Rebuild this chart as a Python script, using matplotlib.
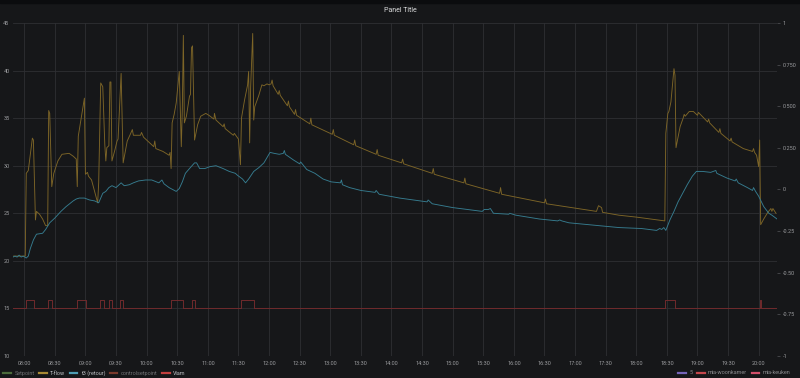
import numpy as np
import pandas as pd
import matplotlib
matplotlib.use("Agg")
import matplotlib.pyplot as plt
import matplotlib.dates as mdates
from matplotlib.lines import Line2D
from matplotlib.patches import Rectangle

plt.rcParams['font.family'] = ['Roboto', 'DejaVu Sans']

DAY = "2019-01-01 "

# T-flow (aanvoer)
tflow_time = [
    "07:49", "08:01", "08:02", "08:04", "08:08", "08:09", "08:11", "08:12", "08:15", "08:18",
    "08:21", "08:23", "08:24", "08:25", "08:27", "08:29", "08:33", "08:37", "08:44", "08:48",
    "08:51", "08:52", "08:53", "08:59", "09:00", "09:02", "09:03", "09:06", "09:12", "09:13",
    "09:15", "09:17", "09:19", "09:20", "09:21", "09:23", "09:24", "09:25", "09:26", "09:29",
    "09:31", "09:32", "09:35", "09:37", "09:41", "09:44", "09:46", "09:47", "09:54", "09:55",
    "09:57", "10:03", "10:07", "10:08", "10:09", "10:16", "10:22", "10:23", "10:24", "10:25",
    "10:27", "10:29", "10:32", "10:34", "10:35", "10:36", "10:37", "10:39", "10:42", "10:43",
    "10:44", "10:45", "10:47", "10:50", "10:53", "10:58", "11:01", "11:06", "11:06:30", "11:08",
    "11:15", "11:16", "11:17", "11:25", "11:26", "11:30", "11:32", "11:33", "11:36", "11:39",
    "11:40", "11:41", "11:42", "11:44", "11:45", "11:46", "11:50", "11:53", "11:55", "11:58",
    "12:00", "12:02", "12:03", "12:04", "12:09", "12:10", "12:11", "12:18", "12:19", "12:20",
    "12:25", "12:26", "12:27", "12:40", "12:41", "12:42", "13:02", "13:03", "13:04", "13:23",
    "13:24", "13:25", "13:45", "13:46", "13:47", "14:10", "14:11", "14:12", "14:40", "14:41",
    "14:42", "15:11", "15:12", "15:13", "15:46", "15:47", "15:48", "16:30", "16:31", "16:32",
    "17:21", "17:23", "17:26", "17:27", "17:43", "18:00", "18:28", "18:29", "18:31", "18:32",
    "18:34", "18:37", "18:38", "18:39", "18:43", "18:46", "18:47", "18:48", "18:52", "18:56",
    "18:59", "19:00", "19:01", "19:10", "19:11", "19:12", "19:21", "19:22", "19:23", "19:32",
    "19:33", "19:34", "19:45", "19:54", "19:55", "19:56", "19:58", "20:00", "20:01", "20:02",
    "20:05", "20:09", "20:12", "20:13", "20:14", "20:17",
]
tflow_val = [
    20.5, 20.5, 29.2, 29.5, 32.9, 32.7, 24.3, 25.2, 24.9, 24.4,
    23.7, 23.7, 35.8, 35.5, 27.8, 29.2, 30.5, 31.2, 31.3, 31.0,
    30.7, 27.8, 33.1, 37.1, 29.1, 29.3, 28.9, 28.5, 26.1, 28.2,
    38.7, 38.3, 32.2, 30.5, 31.9, 32.1, 38.8, 38.8, 30.5, 31.7,
    32.6, 32.8, 39.7, 30.3, 32.6, 33.3, 33.8, 33.2, 33.2, 33.5,
    33.0, 32.4, 32.0, 32.6, 31.8, 31.5, 31.1, 31.4, 29.7, 34.5,
    35.4, 36.6, 39.9, 32.0, 36.0, 43.7, 34.5, 35.2, 37.3, 37.5,
    42.4, 42.6, 32.7, 34.3, 35.2, 35.5, 35.3, 34.9, 35.5, 34.8,
    34.1, 34.4, 33.9, 33.2, 33.4, 32.8, 30.1, 35.0, 36.9, 38.5,
    39.9, 32.4, 38.3, 43.9, 34.8, 36.2, 37.4, 38.5, 38.4, 38.6,
    38.5, 38.6, 39.0, 38.4, 37.5, 37.9, 37.4, 36.3, 36.8, 36.2,
    35.4, 35.9, 35.3, 34.4, 35.0, 34.3, 33.3, 33.8, 33.2, 32.2,
    32.7, 32.1, 31.2, 31.7, 31.1, 30.3, 30.7, 30.2, 29.2, 29.7,
    29.1, 28.2, 28.7, 28.1, 27.1, 27.7, 27.0, 26.1, 26.5, 26.0,
    25.2, 25.8, 25.6, 25.1, 24.8, 24.6, 24.2, 33.4, 35.5, 35.7,
    36.7, 40.2, 39.5, 31.9, 34.1, 35.0, 35.4, 35.2, 35.7, 35.7,
    35.4, 35.3, 35.6, 34.6, 34.9, 34.5, 33.5, 33.9, 33.4, 32.6,
    32.9, 32.5, 31.8, 31.5, 31.8, 31.4, 31.1, 29.9, 32.7, 23.8,
    24.4, 25.1, 25.5, 25.2, 25.5, 25.0,
]

# t3 (retour)
t3_time = [
    "07:49", "07:51", "07:53", "07:55", "07:57", "07:59", "08:02", "08:04", "08:06", "08:09",
    "08:12", "08:18", "08:21", "08:25", "08:30", "08:36", "08:41", "08:48", "08:51", "08:54",
    "08:59", "09:04", "09:09", "09:13", "09:17", "09:20", "09:23", "09:26", "09:30", "09:35",
    "09:38", "09:43", "09:47", "09:52", "09:59", "10:05", "10:12", "10:15", "10:17", "10:22",
    "10:29", "10:32", "10:35", "10:38", "10:42", "10:47", "10:49", "10:52", "10:57", "11:02",
    "11:08", "11:15", "11:21", "11:27", "11:29", "11:34", "11:37", "11:40", "11:45", "11:50",
    "11:55", "12:01", "12:05", "12:10", "12:14", "12:15", "12:16", "12:24", "12:30", "12:31",
    "12:37", "12:45", "12:53", "13:01", "13:10", "13:11", "13:12", "13:19", "13:30", "13:44",
    "13:45", "13:48", "14:08", "14:35", "14:36", "14:40", "15:00", "15:29", "15:31", "15:35",
    "15:37", "15:40", "15:55", "15:56", "16:02", "16:25", "16:43", "16:45", "16:47", "16:54",
    "17:23", "17:43", "18:05", "18:20", "18:23", "18:25", "18:27", "18:29", "18:33", "18:37",
    "18:41", "18:45", "18:50", "18:55", "18:59", "19:05", "19:13", "19:18", "19:19", "19:29",
    "19:37", "19:38", "19:40", "19:49", "19:54", "19:55", "19:57", "20:00", "20:05", "20:10",
    "20:13", "20:18",
]
t3_val = [
    20.4, 20.5, 20.4, 20.6, 20.4, 20.5, 20.3, 20.5, 21.3, 22.2,
    22.8, 22.9, 23.3, 24.0, 24.5, 25.2, 25.7, 26.3, 26.5, 26.6,
    26.6, 26.4, 26.3, 26.1, 27.1, 27.3, 27.7, 27.9, 27.7, 28.2,
    27.9, 28.0, 28.2, 28.4, 28.5, 28.5, 28.2, 28.5, 28.1, 27.7,
    27.3, 27.6, 28.3, 29.2, 29.7, 30.3, 30.3, 29.7, 29.7, 29.9,
    30.0, 29.7, 29.4, 29.2, 29.0, 28.6, 28.2, 28.6, 29.4, 29.8,
    30.3, 31.4, 31.3, 31.2, 31.3, 31.6, 31.2, 30.6, 30.2, 30.4,
    29.6, 29.2, 28.6, 28.3, 28.2, 28.5, 28.0, 27.7, 27.4, 27.2,
    27.4, 27.0, 26.6, 26.2, 26.4, 26.0, 25.6, 25.2, 25.4, 25.4,
    25.5, 25.0, 24.9, 25.0, 24.8, 24.4, 24.2, 24.3, 24.2, 24.0,
    23.7, 23.5, 23.4, 23.2, 23.4, 23.3, 23.5, 23.2, 24.3, 25.2,
    26.2, 27.0, 28.0, 28.9, 29.4, 29.4, 29.3, 29.5, 29.2, 28.7,
    28.4, 28.6, 28.2, 27.7, 27.4, 27.7, 27.3, 26.8, 25.7, 25.0,
    24.8, 24.4,
]

# Vlam (brander aan/uit)
vlam_on = ["08:02", "08:23", "08:52", "09:14", "09:23", "09:34", "10:24", "10:44", "11:33", "18:28", "20:01"]
vlam_off = ["08:10", "08:27", "09:01", "09:18", "09:26", "09:37", "10:36", "10:47", "11:45", "18:38", "20:02"]
vlam_low = 15.0
vlam_high = 15.9
vlam_start = "07:49"
vlam_end = "20:18"

left_legend = ["Setpoint", "T-flow", "t3 (retour)", "controlsetpoint", "Vlam"]
left_legend_colors = ["#4c6b3c", "#a88a35", "#4f9db3", "#7a3a2c", "#c2403f"]
left_legend_text = ["#6e6f72", "#b9bcc0", "#b9bcc0", "#6e6f72", "#b9bcc0"]
right_legend = ["5", "mia-woonkamer", "mia-keuken"]
right_legend_colors = ["#7564b8", "#c4474c", "#d2506b"]

right_ticks = [-1, -0.75, -0.5, -0.25, 0, 0.25, 0.5, 0.75, 1]
right_labels = ["-1", "-0.75", "-0.50", "-0.25", "0", "0.250", "0.500", "0.750", "1"]


def to_dt(ts):
    return pd.to_datetime([DAY + t for t in ts], format="mixed")


bg = "#161719"
grid_c = "#2e2f33"
tick_c = "#9a9b9e"

fig = plt.figure(figsize=(8, 3.78), dpi=100, facecolor=bg)
fig.patches.append(Rectangle((0, 1 - 3 / 378), 1, 3 / 378, transform=fig.transFigure,
                             color="#0b0c0e", zorder=0))
ax = fig.add_axes([13 / 800, 1 - 356 / 378, (777 - 13) / 800, (356 - 23) / 378])
ax.set_facecolor(bg)

ax.plot(to_dt(tflow_time), tflow_val, color="#7d6527", lw=0.65, zorder=3)
ax.plot(to_dt(t3_time), t3_val, color="#367c8f", lw=0.65, zorder=3)

# Vlam as step series
vt = [vlam_start]
vv = [vlam_low]
for on, off in zip(vlam_on, vlam_off):
    vt += [on, on, off, off]
    vv += [vlam_low, vlam_high, vlam_high, vlam_low]
vt.append(vlam_end)
vv.append(vlam_low)
ax.plot(to_dt(vt), vv, color="#702a2c", lw=0.7, zorder=2)

ax.set_xlim(pd.Timestamp(DAY + "07:49"), pd.Timestamp(DAY + "20:18"))
ax.set_ylim(10, 45)
ax.set_yticks(range(10, 50, 5))
ax.xaxis.set_major_locator(mdates.MinuteLocator(byminute=[0, 30]))
ax.xaxis.set_major_formatter(mdates.DateFormatter("%H:%M"))
ax.grid(True, color=grid_c, lw=0.6)
ax.set_axisbelow(True)
for s in ax.spines.values():
    s.set_visible(False)
ax.tick_params(axis="both", length=0, labelsize=4, colors=tick_c)
ax.tick_params(axis="x", pad=3.5)
ax.tick_params(axis="y", pad=2.5)

ax2 = ax.twinx()
ax2.set_ylim(-1, 1)
ax2.set_yticks(right_ticks)
ax2.set_yticklabels(right_labels)
for s in ax2.spines.values():
    s.set_visible(False)
ax2.tick_params(axis="y", length=2, width=0.5, color="#555659", labelsize=4,
                labelcolor=tick_c, pad=2)

fig.text(0.5, 1 - 10 / 378, "Panel Title", ha="center", va="center",
         fontsize=5, color="#d8d9da")

h_left = [Line2D([], [], color=c, lw=1.6) for c in left_legend_colors]
leg1 = fig.legend(h_left, left_legend, loc="center left", bbox_to_anchor=(0.004, 1 - 373 / 378),
                  ncol=5, frameon=False, fontsize=4, handlelength=1.4, handletextpad=0.6,
                  columnspacing=0.8, borderpad=0, borderaxespad=0)
for t, c in zip(leg1.get_texts(), left_legend_text):
    t.set_color(c)

h_right = [Line2D([], [], color=c, lw=1.6) for c in right_legend_colors]
leg2 = fig.legend(h_right, right_legend, loc="center right", bbox_to_anchor=(0.988, 1 - 373 / 378),
                  ncol=3, frameon=False, fontsize=4, handlelength=1.4, handletextpad=0.6,
                  columnspacing=0.8, borderpad=0, borderaxespad=0)
for t in leg2.get_texts():
    t.set_color("#8a8b8e")

fig.savefig("out.png", dpi=100, facecolor=bg)
